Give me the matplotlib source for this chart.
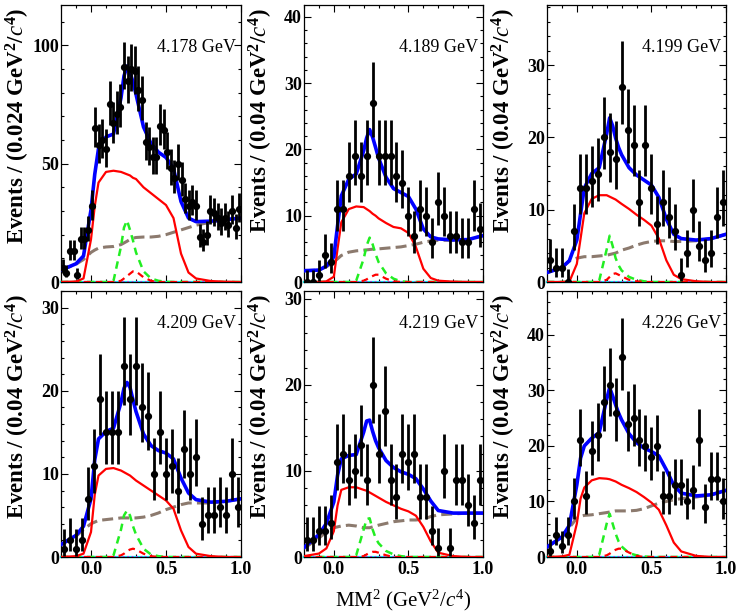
"""
Missing-mass-squared fits at six c.m. energies (2x3 panels).
"""
import numpy as np
import matplotlib
matplotlib.use("Agg")
import matplotlib.pyplot as plt
from matplotlib.ticker import MultipleLocator, FormatStrFormatter

plt.rcParams["font.family"] = "serif"
plt.rcParams["font.serif"] = ["Liberation Serif", "DejaVu Serif"]
plt.rcParams["mathtext.fontset"] = "custom"
plt.rcParams["mathtext.rm"] = "Liberation Serif"
plt.rcParams["mathtext.it"] = "Liberation Serif:italic"
plt.rcParams["mathtext.bf"] = "Liberation Serif:bold"

# ── data ──────────────────────────────────────────────────────────────────────
ENERGIES = ["4.178", "4.189", "4.199", "4.209", "4.219", "4.226"]
BIN_WIDTHS = [0.024, 0.04, 0.04, 0.04, 0.04, 0.04]
Y_MAX = [117.0, 41.8, 38.3, 32.0, 30.9, 47.9]
Y_MAJOR = [50, 10, 10, 10, 10, 10]
Y_MINOR = [10, 2, 2, 2, 2, 2]

COUNTS_4178 = [6, 4, 13, 13, 3, 18, 18, 22, 32, 65, 58, 60, 56, 75, 67, 71, 74,
               91, 85, 90, 89, 81, 77, 59, 57, 53, 53, 66, 64, 55, 48, 44, 50, 43,
               35, 32, 34, 32, 19, 17, 20, 30, 29, 27, 25, 27, 24, 30, 23, 31]
COUNTS_4189 = [0, 0, 1, 4, 3, 11, 11, 16, 19, 16, 19, 27, 19, 19, 19, 16, 15, 10,
               7, 11, 10, 6, 12, 10, 7, 7, 6, 6, 11, 8]
COUNTS_4199 = [3, 2, 2, 0, 7, 13, 13, 14, 15, 20, 18, 17, 27, 21, 19, 11, 19, 13,
               8, 11, 9, 7, 1, 4, 10, 5, 3, 4, 9, 11]
COUNTS_4209 = [1, 2, 1, 2, 7, 11, 19, 15, 15, 15, 23, 19, 23, 18, 17, 10, 15, 10,
               11, 8, 13, 10, 12, 4, 5, 5, 6, 5, 10, 6]
COUNTS_4219 = [2, 2, 3, 3, 4, 11, 12, 9, 10, 13, 9, 20, 12, 17, 9, 7, 12, 11,
               12, 7, 7, 3, 1, 10, 1, 9, 9, 6, 4, 9]
COUNTS_4226 = [1, 4, 2, 4, 10, 21, 11, 19, 22, 28, 31, 26, 36, 24, 25, 21, 20, 18,
               20, 11, 11, 13, 13, 10, 12, 21, 9, 14, 14, 10]

# fit components sampled on a common MM^2 grid
XC = [-0.2, -0.1, -0.05, 0.0, 0.025, 0.05, 0.1, 0.15, 0.2, 0.22, 0.24, 0.26, 0.28,
      0.3, 0.35, 0.4, 0.45, 0.5, 0.55, 0.6, 0.65, 0.7, 0.8, 0.9, 1.0]

SIG_4178 = [0, 0.2, 1.5, 18, 32, 42, 46.5, 47, 46.5, 46, 45.5, 45, 44, 43.5, 40,
            37.5, 35, 32.5, 27, 12, 4, 1.5, 0.4, 0.1, 0]
BKG_4178 = [5, 7.5, 9.5, 12.5, 13.5, 14.3, 14.8, 15, 15.8, 16.5, 17.2, 18, 18.5,
            18.8, 19, 19, 19.3, 20, 21, 22, 23, 24, 25.3, 26.3, 27]
PK1_4178 = [0, 0, 0, 0, 0, 0, 0, 0.5, 15, 23, 26, 22, 17.5, 12.5, 4.5, 1.5, 0.5,
            0.1, 0, 0, 0, 0, 0, 0, 0]
PK2_4178 = [0, 0, 0, 0, 0, 0, 0, 0, 0.5, 1.5, 2.5, 3.5, 4.5, 4.5, 2, 0.5, 0, 0,
            0, 0, 0, 0, 0, 0, 0]

SIG_4189 = [0, 0, 0.1, 0.8, 5, 9, 11, 11.4, 11.3, 11, 10.7, 10.3, 10, 9.6, 8.9,
            8.3, 8.1, 7.4, 5.3, 2, 0.6, 0.2, 0.05, 0, 0]
BKG_4189 = [1.7, 1.8, 2.3, 3, 3.5, 4, 4.5, 4.7, 4.8, 4.85, 4.9, 4.95, 5, 5, 5.1,
            5.2, 5.3, 5.5, 5.7, 6, 6.2, 6.3, 6.3, 6.4, 7]
PK1_4189 = [0, 0, 0, 0, 0, 0, 0, 0.2, 3.5, 5.5, 6.7, 5.7, 4.2, 3, 1.3, 0.5, 0.1,
            0, 0, 0, 0, 0, 0, 0, 0]
PK2_4189 = [0, 0, 0, 0, 0, 0, 0, 0, 0.2, 0.4, 0.7, 0.9, 1.1, 1.1, 0.5, 0.1, 0, 0,
            0, 0, 0, 0, 0, 0, 0]

SIG_4199 = [0, 0, 0.05, 2.5, 6, 9.5, 11.5, 12, 12, 11.8, 11.6, 11.4, 11.1, 10.8,
            10.1, 9.3, 8.6, 7.8, 6, 3, 1, 0.4, 0.1, 0, 0]
BKG_4199 = [1.3, 2, 2.9, 3.3, 3.4, 3.5, 3.5, 3.6, 3.7, 3.8, 3.9, 4.0, 4.2, 4.4,
            4.7, 5.1, 5.4, 5.6, 5.7, 5.7, 5.6, 5.6, 5.7, 6, 6.6]
PK1_4199 = [0, 0, 0, 0, 0, 0, 0, 0.2, 4.5, 6.4, 5, 3.3, 2.3, 1.6, 0.7, 0.3, 0.1,
            0, 0, 0, 0, 0, 0, 0, 0]
PK2_4199 = [0, 0, 0, 0, 0, 0, 0, 0, 0.3, 0.7, 1.1, 1.2, 1.0, 0.8, 0.3, 0.1, 0, 0,
            0, 0, 0, 0, 0, 0, 0]

SIG_4209 = [0, 0.1, 0.4, 3, 7.5, 9.8, 10.6, 10.7, 10.4, 10.2, 10, 9.8, 9.5, 9.2,
            8.6, 8, 7.4, 6.8, 5.8, 3.2, 1.2, 0.4, 0.1, 0, 0]
BKG_4209 = [1.5, 2.5, 3.3, 4, 4.2, 4.4, 4.5, 4.6, 4.7, 4.7, 4.7, 4.7, 4.7, 4.7,
            4.8, 5, 5.3, 5.7, 6, 6.3, 6.5, 6.5, 6.5, 6.7, 7]
PK1_4209 = [0, 0, 0, 0, 0, 0, 0, 0.2, 3.3, 5, 5.6, 5, 3.7, 2.7, 1, 0.3, 0.1,
            0, 0, 0, 0, 0, 0, 0, 0]
PK2_4209 = [0, 0, 0, 0, 0, 0, 0, 0, 0.2, 0.4, 0.7, 0.9, 1.0, 0.9, 0.4, 0.1, 0, 0,
            0, 0, 0, 0, 0, 0, 0]

SIG_4219 = [0.1, 0.4, 1, 3, 6, 7.8, 8.1, 8.1, 7.8, 7.7, 7.5, 7.3, 7.1, 6.9, 6.4,
            6, 5.6, 5.3, 4.8, 3.5, 1.8, 0.5, 0.1, 0, 0]
BKG_4219 = [1.0, 2.2, 2.9, 3.4, 3.5, 3.6, 3.7, 3.6, 3.4, 3.4, 3.4, 3.5, 3.6, 3.7,
            3.9, 4.1, 4.2, 4.3, 4.3, 4.4, 4.7, 4.9, 5.0, 5.1, 5.1]
PK1_4219 = [0, 0, 0, 0, 0, 0, 0, 0.2, 3.2, 4.4, 4.5, 3.2, 2.2, 1.6, 0.7, 0.3, 0.1,
            0, 0, 0, 0, 0, 0, 0, 0]
PK2_4219 = [0, 0, 0, 0, 0, 0, 0, 0, 0.1, 0.3, 0.5, 0.6, 0.6, 0.5, 0.2, 0, 0, 0,
            0, 0, 0, 0, 0, 0, 0]

SIG_4226 = [0, 0.1, 0.4, 6, 10.5, 12.5, 13.8, 14.2, 14.1, 14, 13.8, 13.6, 13.3, 13,
            12.4, 11.7, 10.8, 9.8, 8.5, 5.7, 2.6, 1, 0.2, 0, 0]
BKG_4226 = [1.8, 3.5, 5.3, 7, 7.3, 7.5, 7.6, 7.8, 8, 8.1, 8.2, 8.3, 8.3, 8.3, 8.3,
            8.4, 8.7, 9.2, 9.7, 10, 10.3, 10.5, 10.8, 11.2, 12]
PK1_4226 = [0, 0, 0, 0, 0, 0, 0, 0.4, 6, 7.8, 6, 4.2, 2.8, 1.9, 0.7, 0.3, 0.1,
            0, 0, 0, 0, 0, 0, 0, 0]
PK2_4226 = [0, 0, 0, 0, 0, 0, 0, 0, 0.3, 0.6, 1.0, 1.3, 1.5, 1.5, 0.8, 0.2, 0, 0,
            0, 0, 0, 0, 0, 0, 0]

COUNTS = [COUNTS_4178, COUNTS_4189, COUNTS_4199, COUNTS_4209, COUNTS_4219, COUNTS_4226]
SIGNAL = [SIG_4178, SIG_4189, SIG_4199, SIG_4209, SIG_4219, SIG_4226]
BACKGROUND = [BKG_4178, BKG_4189, BKG_4199, BKG_4209, BKG_4219, BKG_4226]
PEAK1 = [PK1_4178, PK1_4189, PK1_4199, PK1_4209, PK1_4219, PK1_4226]
PEAK2 = [PK2_4178, PK2_4189, PK2_4199, PK2_4209, PK2_4219, PK2_4226]

BROWN = "#8c7a6e"
GREEN = "#22ee22"


def poisson_errors(n):
    """Gehrels approximation of the 68% Poisson interval."""
    n = np.asarray(n, dtype=float)
    hi = np.sqrt(n + 0.75) + 1.0
    with np.errstate(divide="ignore", invalid="ignore"):
        low_edge = n * (1 - 1 / (9 * n) - 1 / (3 * np.sqrt(n))) ** 3
    lo = np.where(n > 0, n - low_edge, 0.0)
    return lo, hi


# ── layout (pixels on a 736x616 canvas) ───────────────────────────────────────
W, H = 736, 616
COL_LEFT = [61, 304, 547]
COL_W = [180, 179, 179]
ROW_TOP = [5, 291]
ROW_BOT = [282, 557]

fig = plt.figure(figsize=(W / 100, H / 100), dpi=100)
fig.patch.set_facecolor("white")

xc = np.array(XC)
for k in range(6):
    r, c = divmod(k, 3)
    ax = fig.add_axes([COL_LEFT[c] / W, 1 - ROW_BOT[r] / H,
                       COL_W[c] / W, (ROW_BOT[r] - ROW_TOP[r]) / H])

    sig = np.array(SIGNAL[k])
    bkg = np.array(BACKGROUND[k])
    pk1 = np.array(PEAK1[k])
    pk2 = np.array(PEAK2[k])
    total = sig + bkg + pk1 + pk2

    # near-zero components along the baseline
    ax.plot(xc, np.zeros_like(xc), color="cyan", lw=1.6, clip_on=False, zorder=2)
    ax.plot(xc, np.zeros_like(xc), color="magenta", lw=1.2, ls=":",
            clip_on=False, zorder=2)

    ax.plot(xc, bkg, color=BROWN, lw=2.2, ls=(0, (3.6, 1.7)), zorder=3)
    ax.plot(xc, pk1, color=GREEN, lw=1.8, ls=(0, (3.0, 2.2)), zorder=3)
    ax.plot(xc, pk2, color="red", lw=1.6, ls=(0, (3.0, 2.2)), zorder=3)
    ax.plot(xc, sig, color="red", lw=1.6, zorder=3)
    ax.plot(xc, total, color="blue", lw=2.6, zorder=4)

    w = BIN_WIDTHS[k]
    n = np.array(COUNTS[k])
    xb = -0.2 + w / 2 + w * np.arange(len(n))
    lo, hi = poisson_errors(n)
    ax.errorbar(xb, n, yerr=[lo, hi], fmt="o", color="black", ms=4.2,
                elinewidth=2.0, capsize=0, zorder=5)

    ax.set_xlim(-0.2, 1.0)
    ax.set_ylim(0, Y_MAX[k])
    ax.xaxis.set_major_locator(MultipleLocator(0.5))
    ax.xaxis.set_minor_locator(MultipleLocator(0.1))
    ax.xaxis.set_major_formatter(FormatStrFormatter("%.1f"))
    ax.yaxis.set_major_locator(MultipleLocator(Y_MAJOR[k]))
    ax.yaxis.set_minor_locator(MultipleLocator(Y_MINOR[k]))
    ax.tick_params(which="both", direction="in", top=True, right=True,
                   width=0.8, labelsize=13)
    ax.tick_params(which="major", length=5)
    ax.tick_params(which="minor", length=2.5)
    ax.tick_params(axis="y", pad=1.5)
    ax.tick_params(axis="x", pad=3)
    if r == 0:
        ax.tick_params(axis="x", labelbottom=False)
    for lab in ax.get_xticklabels() + ax.get_yticklabels():
        lab.set_fontweight("bold")
    for spine in ax.spines.values():
        spine.set_linewidth(0.9)

    width_txt = "0.024" if w < 0.03 else "0.04"
    ylab = ax.set_ylabel(
        rf"Events / ({width_txt} GeV$^{{\mathbf{{2}}}}$/$\mathit{{c}}^{{\mathbf{{4}}}}$)",
        fontsize=16.5, fontweight="bold")
    ylab.set_horizontalalignment("right")
    ax.yaxis.set_label_coords(-0.16, 0.99)

    ax.text(0.972, 0.845 if r == 0 else 0.876, f"{ENERGIES[k]} GeV",
            transform=ax.transAxes, ha="right", va="center", fontsize=13)

fig.text(403 / W, 1 - 600 / H, r"MM$^{2}$ (GeV$^{2}$/$c^{4}$)",
         ha="center", va="center", fontsize=15)

fig.savefig("out.png", dpi=100, facecolor="white")
